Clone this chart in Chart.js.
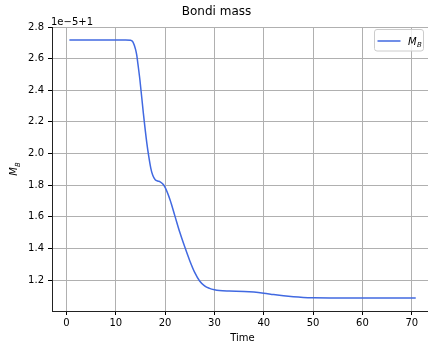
<!DOCTYPE html>
<html><head><meta charset="utf-8">
<style>
html,body{margin:0;padding:0;overflow:hidden;background:#fff;width:428px;height:341px}
#wrap{width:433px;height:341px}
</style>
<script src="https://cdn.jsdelivr.net/npm/chart.js@4"></script>
</head><body><div id="wrap"><canvas id="c" width="433" height="341"></canvas></div>
<script>
// Data (values shown as offset 1e-5+1)
const times = [0.6, 2, 4, 6, 8, 10, 12, 13, 13.5, 14, 14.25, 14.5, 14.9, 15.6, 16.3, 16.7, 17.1, 17.5, 18, 18.5, 19, 19.5, 20, 21, 22, 23, 24, 25, 26, 27, 28, 29, 30, 31, 33, 36, 38, 40, 42, 44, 46, 48, 50, 55, 60, 65, 70.8];
const massB = [2.718, 2.718, 2.718, 2.718, 2.718, 2.718, 2.718, 2.716, 2.705, 2.66, 2.623, 2.565, 2.465, 2.254, 2.066, 1.98, 1.908, 1.862, 1.834, 1.826, 1.821, 1.808, 1.786, 1.708, 1.604, 1.500, 1.408, 1.322, 1.248, 1.194, 1.163, 1.147, 1.138, 1.133, 1.130, 1.128, 1.124, 1.117, 1.108, 1.100, 1.094, 1.090, 1.088, 1.087, 1.087, 1.087, 1.087];
const xTicks = [0, 10, 20, 30, 40, 50, 60, 70];
const yTicks = [1.2, 1.4, 1.6, 1.8, 2.0, 2.2, 2.4, 2.6, 2.8];
const titleText = 'Bondi mass';
const xLabel = 'Time';
const offsetText = '1e\u22125+1';

const FONT = '"DejaVu Sans", sans-serif';
const LINE = '#4169E1';
Chart.defaults.font.family = FONT;
Chart.defaults.font.size = 10;
Chart.defaults.color = '#000';

function drawMB(ctx, x, y, size) {
  ctx.font = 'italic ' + size + 'px ' + FONT;
  ctx.textBaseline = 'alphabetic';
  ctx.textAlign = 'left';
  ctx.fillText('M', x, y);
  const w = ctx.measureText('M').width;
  ctx.font = 'italic ' + (size * 0.7).toFixed(1) + 'px ' + FONT;
  ctx.fillText('B', x + w + 0.3, y + size * 0.26);
}
function widthMB(ctx, size) {
  ctx.font = 'italic ' + size + 'px ' + FONT;
  const a = ctx.measureText('M').width;
  ctx.font = 'italic ' + (size * 0.7).toFixed(1) + 'px ' + FONT;
  return a + 0.3 + ctx.measureText('B').width;
}

const extras = {
  id: 'extras',
  afterDraw(chart) {
    const ctx = chart.ctx, a = chart.chartArea;
    ctx.save();
    ctx.fillStyle = '#000';
    // offset text
    ctx.font = '10px ' + FONT;
    ctx.textAlign = 'left';
    ctx.textBaseline = 'alphabetic';
    ctx.fillText(offsetText, a.left - 1, 24.5);
    // x label
    ctx.textAlign = 'center';
    ctx.fillText(xLabel, (a.left + a.right) / 2, 340.5);
    // y label
    ctx.save();
    ctx.translate(17, (a.top + a.bottom) / 2);
    ctx.rotate(-Math.PI / 2);
    const wl = widthMB(ctx, 10);
    drawMB(ctx, -wl / 2, 0, 10);
    ctx.restore();
    // legend
    const bx = 374.5, by = 29.5, bw = 49, bh = 21.5, r = 2.5;
    ctx.beginPath();
    ctx.moveTo(bx + r, by);
    ctx.lineTo(bx + bw - r, by);
    ctx.arcTo(bx + bw, by, bx + bw, by + r, r);
    ctx.lineTo(bx + bw, by + bh - r);
    ctx.arcTo(bx + bw, by + bh, bx + bw - r, by + bh, r);
    ctx.lineTo(bx + r, by + bh);
    ctx.arcTo(bx, by + bh, bx, by + bh - r, r);
    ctx.lineTo(bx, by + r);
    ctx.arcTo(bx, by, bx + r, by, r);
    ctx.closePath();
    ctx.fillStyle = 'rgba(255,255,255,0.8)';
    ctx.fill();
    ctx.strokeStyle = '#cccccc';
    ctx.lineWidth = 1;
    ctx.stroke();
    ctx.beginPath();
    ctx.moveTo(377.5, 41);
    ctx.lineTo(400.5, 41);
    ctx.strokeStyle = LINE;
    ctx.lineWidth = 1.5;
    ctx.stroke();
    ctx.fillStyle = '#000';
    drawMB(ctx, 408, 44.5, 10);
    ctx.restore();
  }
};

new Chart(document.getElementById('c'), {
  type: 'line',
  data: {
    datasets: [{
      label: 'M_B',
      data: times.map((t, i) => ({ x: t, y: massB[i] })),
      borderColor: LINE,
      borderWidth: 1.5,
      pointRadius: 0,
      fill: false,
      cubicInterpolationMode: 'monotone'
    }]
  },
  options: {
    responsive: false,
    devicePixelRatio: 1,
    animation: false,
    layout: { padding: 0 },
    plugins: {
      legend: { display: false },
      tooltip: { enabled: false },
      title: {
        display: true,
        text: titleText,
        font: { size: 12, weight: 'normal', family: FONT },
        color: '#000',
        padding: { top: 5, bottom: 7.6 }
      }
    },
    scales: {
      x: {
        type: 'linear',
        min: -2.92,
        max: 74.3,
        afterBuildTicks: s => { s.ticks = xTicks.map(v => ({ value: v })); },
        afterFit: s => { s.height = 30; },
        ticks: { padding: 2, font: { size: 10 }, color: '#000', maxRotation: 0, autoSkip: false },
        grid: { color: '#b0b0b0', lineWidth: 1, tickColor: '#000', tickLength: 4, tickWidth: 1 },
        border: { display: true, color: '#222', width: 1 }
      },
      y: {
        type: 'linear',
        min: 1.004,
        max: 2.8,
        afterBuildTicks: s => { s.ticks = yTicks.map(v => ({ value: v })); },
        afterFit: s => { s.width = 52; },
        ticks: { padding: 4, font: { size: 10 }, color: '#000', callback: v => v.toFixed(1), autoSkip: false },
        grid: { color: '#b0b0b0', lineWidth: 1, tickColor: '#000', tickLength: 4, tickWidth: 1 },
        border: { display: true, color: '#222', width: 1 }
      }
    }
  },
  plugins: [extras]
});
</script>
</body></html>
